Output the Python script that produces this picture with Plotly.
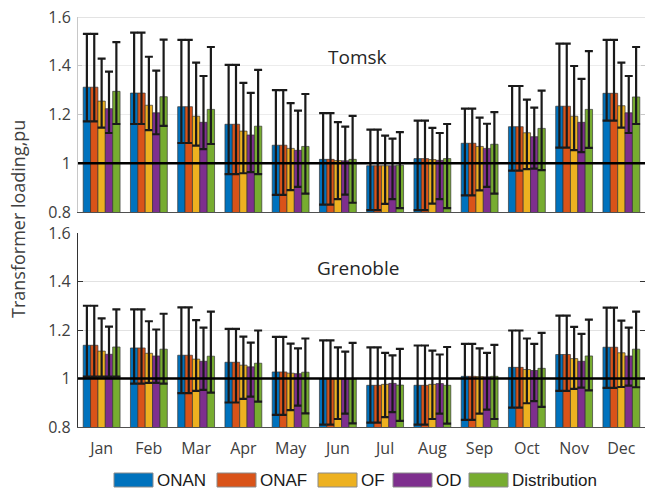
import plotly.graph_objects as go
from plotly.subplots import make_subplots

months = ["Jan", "Feb", "Mar", "Apr", "May", "Jun", "Jul", "Aug", "Sep", "Oct", "Nov", "Dec"]
series_names = ["ONAN", "ONAF", "OF", "OD", "Distribution"]
series_colors = ["#0072BD", "#D95319", "#EDB120", "#7E2F8E", "#77AC30"]

# Tomsk: mean loading and the upper / lower ends of each error bar (pu)
tomsk_onan = [1.312, 1.288, 1.232, 1.160, 1.074, 1.016, 0.990, 1.019, 1.082, 1.150, 1.234, 1.287]
tomsk_onaf = [1.312, 1.288, 1.232, 1.160, 1.074, 1.016, 0.990, 1.019, 1.082, 1.150, 1.234, 1.287]
tomsk_of = [1.255, 1.238, 1.193, 1.132, 1.061, 1.011, 0.990, 1.015, 1.069, 1.125, 1.193, 1.236]
tomsk_od = [1.224, 1.207, 1.168, 1.116, 1.053, 1.010, 0.990, 1.012, 1.061, 1.109, 1.168, 1.207]
tomsk_dist = [1.295, 1.273, 1.221, 1.152, 1.069, 1.016, 0.992, 1.019, 1.078, 1.143, 1.221, 1.272]

tomsk_onan_hi = [1.531, 1.536, 1.506, 1.404, 1.300, 1.206, 1.138, 1.175, 1.224, 1.317, 1.491, 1.506]
tomsk_onan_lo = [1.172, 1.161, 1.083, 0.955, 0.870, 0.830, 0.808, 0.808, 0.868, 0.970, 1.064, 1.175]
tomsk_onaf_hi = [1.531, 1.536, 1.506, 1.404, 1.300, 1.206, 1.138, 1.175, 1.224, 1.317, 1.491, 1.506]
tomsk_onaf_lo = [1.172, 1.161, 1.083, 0.955, 0.870, 0.830, 0.808, 0.808, 0.868, 0.970, 1.064, 1.175]
tomsk_of_hi = [1.429, 1.437, 1.413, 1.330, 1.247, 1.169, 1.113, 1.145, 1.187, 1.261, 1.399, 1.413]
tomsk_of_lo = [1.146, 1.136, 1.072, 0.959, 0.890, 0.853, 0.833, 0.834, 0.889, 0.976, 1.054, 1.146]
tomsk_od_hi = [1.376, 1.380, 1.358, 1.289, 1.216, 1.150, 1.101, 1.124, 1.162, 1.228, 1.346, 1.358]
tomsk_od_lo = [1.124, 1.119, 1.058, 0.964, 0.903, 0.871, 0.853, 0.853, 0.903, 0.978, 1.046, 1.124]
tomsk_dist_hi = [1.497, 1.507, 1.477, 1.383, 1.284, 1.194, 1.128, 1.161, 1.210, 1.298, 1.460, 1.477]
tomsk_dist_lo = [1.161, 1.153, 1.079, 0.955, 0.875, 0.838, 0.816, 0.816, 0.875, 0.972, 1.063, 1.161]

# Grenoble
gren_onan = [1.137, 1.126, 1.096, 1.067, 1.027, 0.998, 0.972, 0.972, 1.009, 1.046, 1.099, 1.129]
gren_onaf = [1.137, 1.126, 1.096, 1.067, 1.027, 0.998, 0.972, 0.972, 1.009, 1.046, 1.099, 1.129]
gren_of = [1.113, 1.104, 1.080, 1.055, 1.022, 0.998, 0.976, 0.976, 1.008, 1.037, 1.082, 1.106]
gren_od = [1.100, 1.093, 1.071, 1.048, 1.020, 0.998, 0.980, 0.979, 1.007, 1.033, 1.071, 1.093]
gren_dist = [1.130, 1.121, 1.092, 1.063, 1.026, 0.998, 0.973, 0.972, 1.009, 1.042, 1.093, 1.121]

gren_onan_hi = [1.300, 1.285, 1.293, 1.205, 1.172, 1.157, 1.128, 1.136, 1.143, 1.198, 1.259, 1.292]
gren_onan_lo = [1.008, 0.979, 0.940, 0.901, 0.850, 0.810, 0.818, 0.810, 0.829, 0.880, 0.949, 0.961]
gren_onaf_hi = [1.300, 1.285, 1.293, 1.205, 1.172, 1.157, 1.128, 1.136, 1.143, 1.198, 1.259, 1.292]
gren_onaf_lo = [1.008, 0.979, 0.940, 0.901, 0.850, 0.810, 0.818, 0.810, 0.829, 0.880, 0.949, 0.961]
gren_of_hi = [1.248, 1.236, 1.241, 1.173, 1.144, 1.128, 1.106, 1.115, 1.124, 1.165, 1.213, 1.239]
gren_of_lo = [1.008, 0.982, 0.949, 0.916, 0.870, 0.833, 0.841, 0.833, 0.855, 0.898, 0.957, 0.965]
gren_od_hi = [1.214, 1.202, 1.210, 1.148, 1.124, 1.111, 1.095, 1.099, 1.106, 1.143, 1.184, 1.210]
gren_od_lo = [1.008, 0.982, 0.953, 0.925, 0.888, 0.855, 0.861, 0.855, 0.872, 0.907, 0.962, 0.971]
gren_dist_hi = [1.285, 1.267, 1.276, 1.198, 1.165, 1.147, 1.122, 1.130, 1.139, 1.188, 1.243, 1.276]
gren_dist_lo = [1.008, 0.979, 0.942, 0.905, 0.856, 0.815, 0.825, 0.814, 0.833, 0.883, 0.951, 0.964]

y_ticks = [0.8, 1.0, 1.2, 1.4, 1.6]
y_ticktext = ["0.8", "1", "1.2", "1.4", "1.6"]

panels = [
    ("Tomsk", [
        (tomsk_onan, tomsk_onan_hi, tomsk_onan_lo),
        (tomsk_onaf, tomsk_onaf_hi, tomsk_onaf_lo),
        (tomsk_of, tomsk_of_hi, tomsk_of_lo),
        (tomsk_od, tomsk_od_hi, tomsk_od_lo),
        (tomsk_dist, tomsk_dist_hi, tomsk_dist_lo),
    ]),
    ("Grenoble", [
        (gren_onan, gren_onan_hi, gren_onan_lo),
        (gren_onaf, gren_onaf_hi, gren_onaf_lo),
        (gren_of, gren_of_hi, gren_of_lo),
        (gren_od, gren_od_hi, gren_od_lo),
        (gren_dist, gren_dist_hi, gren_dist_lo),
    ]),
]

W, H = 645, 492
ML, MR, MT, MB = 78, 0, 17, 65
plot_h = H - MT - MB

def py(pix):
    """pixel row -> paper y"""
    return (H - MB - pix) / plot_h

def px(pix):
    """pixel column -> paper x"""
    return (pix - ML) / (W - ML - MR)

fig = make_subplots(rows=2, cols=1, shared_xaxes=False, vertical_spacing=0.05)

for row, (city, series) in enumerate(panels, start=1):
    for name, color, (vals, hi, lo) in zip(series_names, series_colors, series):
        fig.add_trace(
            go.Bar(
                x=months,
                y=vals,
                name=name,
                showlegend=False,
                marker=dict(color=color, line=dict(color="rgba(50,50,50,0.85)", width=0.8)),
                error_y=dict(
                    type="data",
                    symmetric=False,
                    array=[h - v for h, v in zip(hi, vals)],
                    arrayminus=[v - l for v, l in zip(vals, lo)],
                    color="#1a1a1a",
                    thickness=2.2,
                    width=4,
                ),
            ),
            row=row,
            col=1,
        )

tick_font = dict(family="Open Sans", size=16, color="#404040")

fig.update_layout(
    width=W,
    height=H,
    margin=dict(l=ML, r=MR, t=MT, b=MB),
    paper_bgcolor="white",
    plot_bgcolor="white",
    barmode="group",
    bargap=0.22,
    bargroupgap=0,
    showlegend=False,
)

top_dom = [py(212), 1.0]
bot_dom = [0.0, py(233)]

fig.update_layout(
    xaxis=dict(
        domain=[0, 1], anchor="y", showticklabels=False, ticks="",
        showline=True, linecolor="#505050", linewidth=1.2, showgrid=False,
        categoryorder="array", categoryarray=months,
    ),
    yaxis=dict(
        domain=top_dom, range=[0.8, 1.6], tickvals=y_ticks, ticktext=y_ticktext,
        ticks="inside", ticklen=4, tickcolor="#c8c8c8", showline=True,
        linecolor="#c8c8c8", linewidth=1, mirror="ticks",
        showgrid=True, gridcolor="#ececec", gridwidth=1, zeroline=False,
        tickfont=tick_font, ticklabelstandoff=3,
    ),
    xaxis2=dict(
        domain=[0, 1], anchor="y2", tickfont=tick_font, ticks="",
        showline=True, linecolor="#505050", linewidth=1.2, showgrid=False,
        categoryorder="array", categoryarray=months, ticklabelstandoff=7,
    ),
    yaxis2=dict(
        domain=bot_dom, range=[0.8, 1.6], tickvals=y_ticks, ticktext=y_ticktext,
        ticks="inside", ticklen=5, tickcolor="#333333", showline=True,
        linecolor="#333333", linewidth=1.2, mirror="ticks",
        showgrid=True, gridcolor="#e2e2e2", gridwidth=1, zeroline=False,
        tickfont=tick_font, ticklabelstandoff=3,
    ),
    # month ticks along the top edge of the lower panel
    xaxis3=dict(
        overlaying="x2", anchor="y2", side="top", range=[-0.5, 11.5],
        tickvals=list(range(len(months))), showticklabels=False,
        ticks="inside", ticklen=6, tickcolor="#c8c8c8", showline=True,
        linecolor="#c8c8c8", linewidth=1, showgrid=False, zeroline=False,
    ),
)

# top border of the upper panel
fig.add_shape(type="line", xref="x domain", yref="y", x0=0, x1=1, y0=1.6, y1=1.6,
              line=dict(color="#c8c8c8", width=1))

# unit-loading reference line in both panels
for yr, xr in (("y", "x domain"), ("y2", "x2 domain")):
    fig.add_shape(type="line", xref=xr, yref=yr, x0=0, x1=1, y0=1.0, y1=1.0,
                  line=dict(color="black", width=2.6), layer="above")

# panel titles
title_font = dict(family="Open Sans", size=19, color="#262626")
fig.add_annotation(text="Tomsk", xref="paper", yref="paper", x=px(357), y=py(57),
                   xanchor="center", yanchor="middle", showarrow=False, font=title_font)
fig.add_annotation(text="Grenoble", xref="paper", yref="paper", x=px(357.5), y=py(268),
                   xanchor="center", yanchor="middle", showarrow=False, font=title_font)

# shared y-axis title
fig.add_annotation(text="Transformer loading,pu", xref="paper", yref="paper",
                   x=px(18), y=py(219), xanchor="center", yanchor="middle",
                   textangle=-90, showarrow=False,
                   font=dict(family="Open Sans", size=18, color="#404040"))

# legend with wide swatches
legend_x = [114, 217, 318, 393, 469]
sw_w, sw_top, sw_bot = 39, 473, 487
for name, color, x0 in zip(series_names, series_colors, legend_x):
    fig.add_shape(type="rect", xref="paper", yref="paper",
                  x0=px(x0), x1=px(x0 + sw_w), y0=py(sw_bot), y1=py(sw_top),
                  fillcolor=color, line=dict(color="#8a8a8a", width=1))
    fig.add_annotation(text=name, xref="paper", yref="paper",
                       x=px(x0 + sw_w + 2), y=py((sw_top + sw_bot) / 2),
                       xanchor="left", yanchor="middle", showarrow=False,
                       font=dict(family="Liberation Sans", size=17, color="#1a1a1a"))

fig.write_html("out.html")
